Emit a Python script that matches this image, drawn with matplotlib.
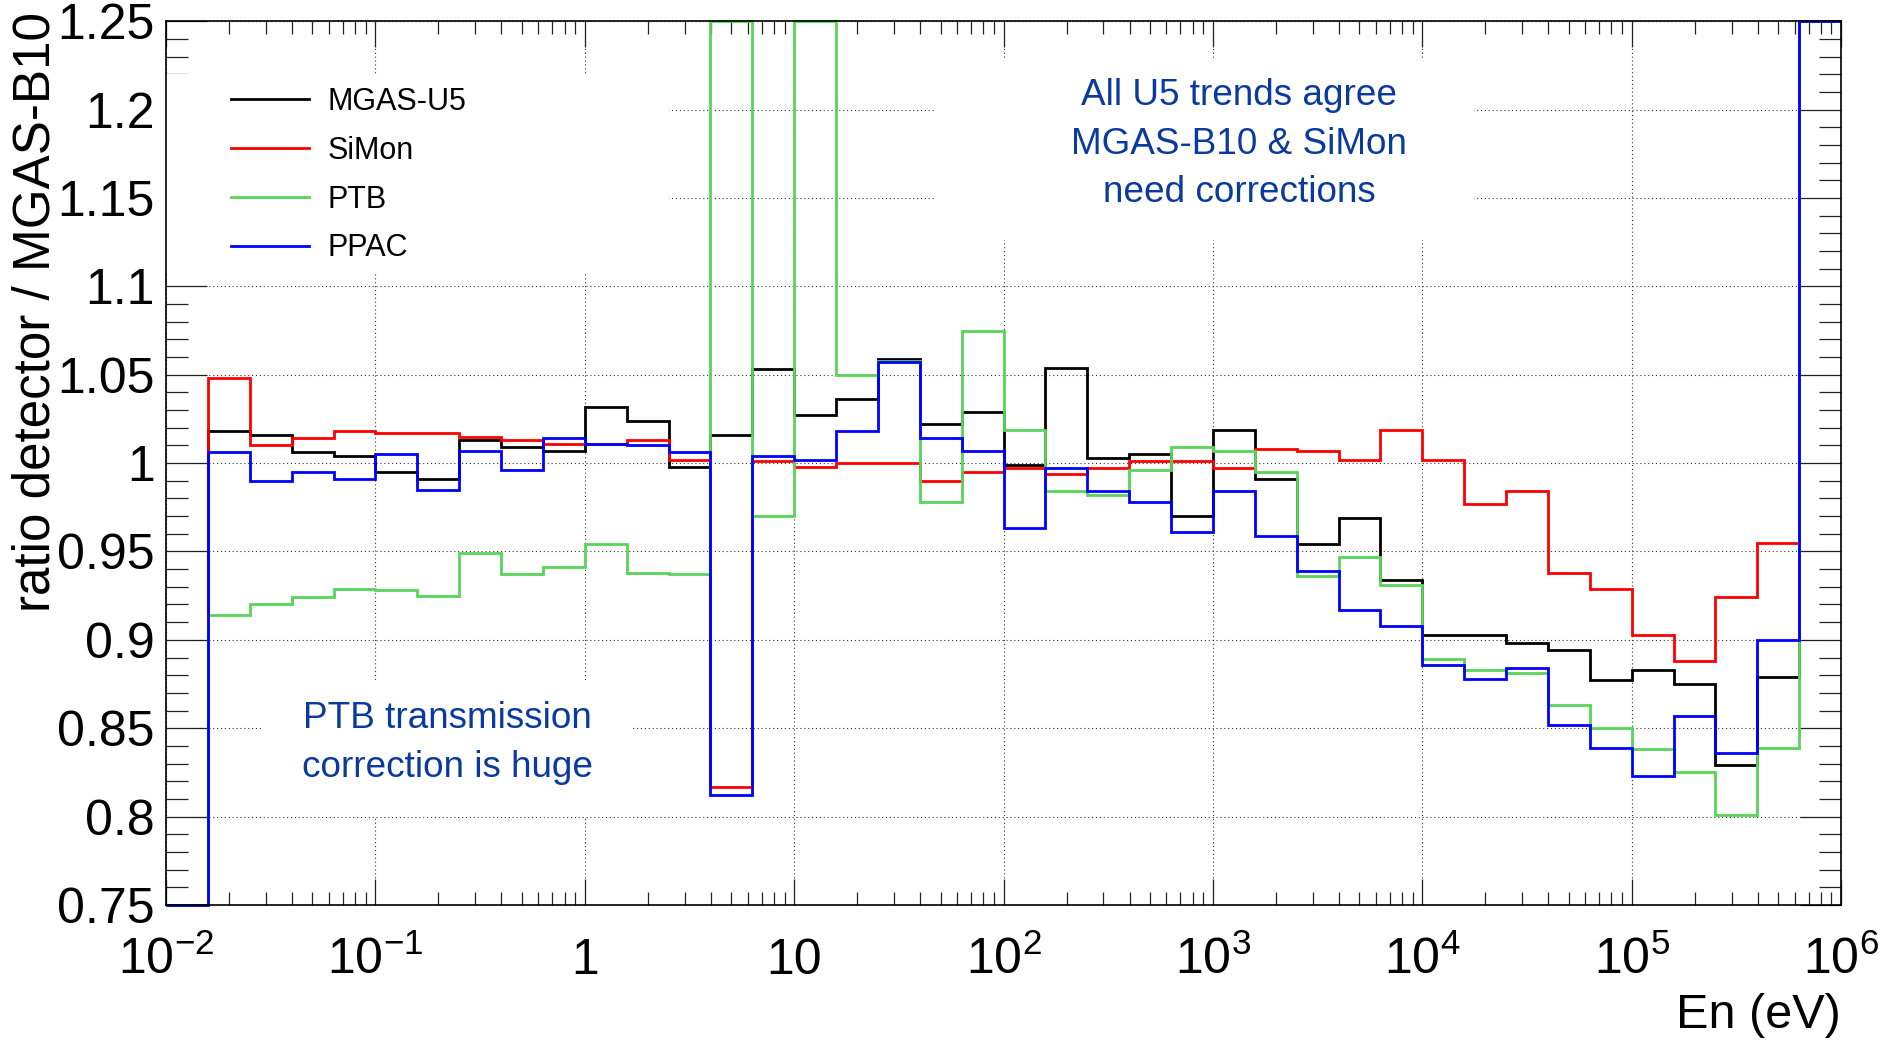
import numpy as np
import matplotlib
matplotlib.use("Agg")
import matplotlib.pyplot as plt
from matplotlib.patches import Rectangle
from matplotlib.ticker import MultipleLocator, LogLocator, NullFormatter

plt.rcParams['font.family'] = ['Liberation Sans', 'DejaVu Sans']
plt.rcParams['mathtext.fontset'] = 'custom'
plt.rcParams['mathtext.rm'] = 'Liberation Sans'
plt.rcParams['mathtext.it'] = 'Liberation Sans:italic'

# 5 log bins per decade, 1e-2 .. 1e6 eV
edges = np.logspace(-2, 6, 41)

# ratio to MGAS-B10 per bin; first bin empty, last bin off scale
mgas_u5 = [0.0, 1.018, 1.016, 1.006, 1.004, 0.995, 0.991, 1.013, 1.009, 1.007,
           1.032, 1.024, 0.998, 1.016, 1.053, 1.027, 1.036, 1.059, 1.022, 1.029,
           0.999, 1.054, 1.003, 1.005, 0.970, 1.019, 0.991, 0.954, 0.969, 0.934,
           0.903, 0.903, 0.898, 0.894, 0.877, 0.883, 0.875, 0.829, 0.879, 1.30]
simon = [0.0, 1.048, 1.010, 1.014, 1.018, 1.017, 1.017, 1.015, 1.013, 1.011,
         1.011, 1.013, 1.002, 0.817, 1.001, 0.998, 1.000, 1.000, 0.990, 0.995,
         0.997, 0.994, 0.997, 1.001, 1.001, 0.997, 1.008, 1.007, 1.002, 1.019,
         1.002, 0.977, 0.984, 0.938, 0.929, 0.903, 0.888, 0.924, 0.955, 1.30]
ptb = [0.0, 0.914, 0.920, 0.924, 0.929, 0.928, 0.925, 0.949, 0.937, 0.941,
       0.954, 0.938, 0.937, 1.30, 0.970, 1.30, 1.050, 1.058, 0.978, 1.075,
       1.019, 0.984, 0.982, 0.996, 1.009, 1.007, 0.995, 0.936, 0.947, 0.931,
       0.889, 0.883, 0.881, 0.863, 0.850, 0.838, 0.825, 0.801, 0.839, 1.30]
ppac = [0.0, 1.006, 0.990, 0.995, 0.991, 1.005, 0.985, 1.007, 0.996, 1.014,
        1.011, 1.010, 1.006, 0.812, 1.004, 1.002, 1.018, 1.057, 1.014, 1.007,
        0.963, 0.997, 0.984, 0.978, 0.961, 0.984, 0.959, 0.939, 0.917, 0.908,
        0.886, 0.878, 0.884, 0.852, 0.839, 0.823, 0.857, 0.836, 0.900, 1.30]

labels = ['MGAS-U5', 'SiMon', 'PTB', 'PPAC']
colors = ['black', '#ff0000', '#58d558', '#0000ff']

ymin, ymax = 0.75, 1.25
text_blue = '#0b3a9e'

fig = plt.figure(figsize=(18.83, 10.45), dpi=100)
ax = fig.add_axes([0.0882, 0.134, 0.8895, 0.8457])

# white boxes behind legend and notes hide the grid there
ax.set_axisbelow(True)
for x0, y0, w, h in [(0.0, 0.715, 0.300, 0.225),
                     (0.4585, 0.752, 0.3225, 0.206),
                     (0.0573, 0.0995, 0.2217, 0.1525)]:
    ax.add_patch(Rectangle((x0, y0), w, h, transform=ax.transAxes,
                           facecolor='white', edgecolor='none', zorder=1))

for vals, lab, col in zip([mgas_u5, simon, ptb, ppac], labels, colors):
    # draw out-of-range bins on the frame like ROOT does
    v = np.clip(np.array(vals), ymin, ymax)
    ax.stairs(v, edges, baseline=None, color=col, lw=2.0, label=lab,
              zorder=2, clip_on=False)

ax.set_xscale('log')
ax.set_xlim(1e-2, 1e6)
ax.set_ylim(ymin, ymax)

xt = [1e-2, 1e-1, 1, 10, 1e2, 1e3, 1e4, 1e5, 1e6]
xl = [r'$\mathregular{10^{-2}}$', r'$\mathregular{10^{-1}}$', '1', '10',
      r'$\mathregular{10^{2}}$', r'$\mathregular{10^{3}}$', r'$\mathregular{10^{4}}$',
      r'$\mathregular{10^{5}}$', r'$\mathregular{10^{6}}$']
ax.set_xticks(xt, xl)
ax.xaxis.set_minor_locator(LogLocator(base=10, subs=np.arange(2, 10), numticks=20))
ax.xaxis.set_minor_formatter(NullFormatter())
ax.yaxis.set_major_locator(MultipleLocator(0.05))
ax.yaxis.set_minor_locator(MultipleLocator(0.01))
ax.yaxis.set_major_formatter(plt.FuncFormatter(lambda y, p: f'{y:g}'))

ax.tick_params(axis='both', which='both', direction='in', top=True, right=True,
               width=0.9, colors='#222222', labelcolor='black')
ax.tick_params(axis='x', which='major', length=19, labelsize=36, pad=50)
ax.tick_params(axis='x', which='minor', length=9.5)
ax.tick_params(axis='y', which='major', length=29.5, labelsize=36, pad=8)
ax.tick_params(axis='y', which='minor', length=16)
for lab in ax.get_xticklabels():
    lab.set_verticalalignment('baseline')

for sp in ax.spines.values():
    sp.set_linewidth(1.2)

ax.grid(True, which='major', color='#333333', linestyle=(0, (1, 2.5)), lw=0.8)

ax.legend(loc='upper left', bbox_to_anchor=(0.0388, 0.926), frameon=False,
          fontsize=22, handlelength=2.56, handletextpad=0.59, labelspacing=0.62,
          borderpad=0, borderaxespad=0)

ax.text(0.6406, 0.861, 'All U5 trends agree\nMGAS-B10 & SiMon\nneed corrections',
        transform=ax.transAxes, ha='center', va='center', multialignment='center',
        fontsize=26.6, color=text_blue, linespacing=1.51, zorder=3)
ax.text(0.1678, 0.183, 'PTB transmission\ncorrection is huge',
        transform=ax.transAxes, ha='center', va='center', multialignment='center',
        fontsize=26.6, color=text_blue, linespacing=1.51, zorder=3)

fig.text(0.019, 0.9885, 'ratio detector / MGAS-B10', rotation=90,
         ha='center', va='top', fontsize=36.8)
fig.text(0.9777, 0.0278, 'En (eV)', ha='right', va='center', fontsize=35)

fig.savefig('out.png', dpi=100, facecolor='white')
